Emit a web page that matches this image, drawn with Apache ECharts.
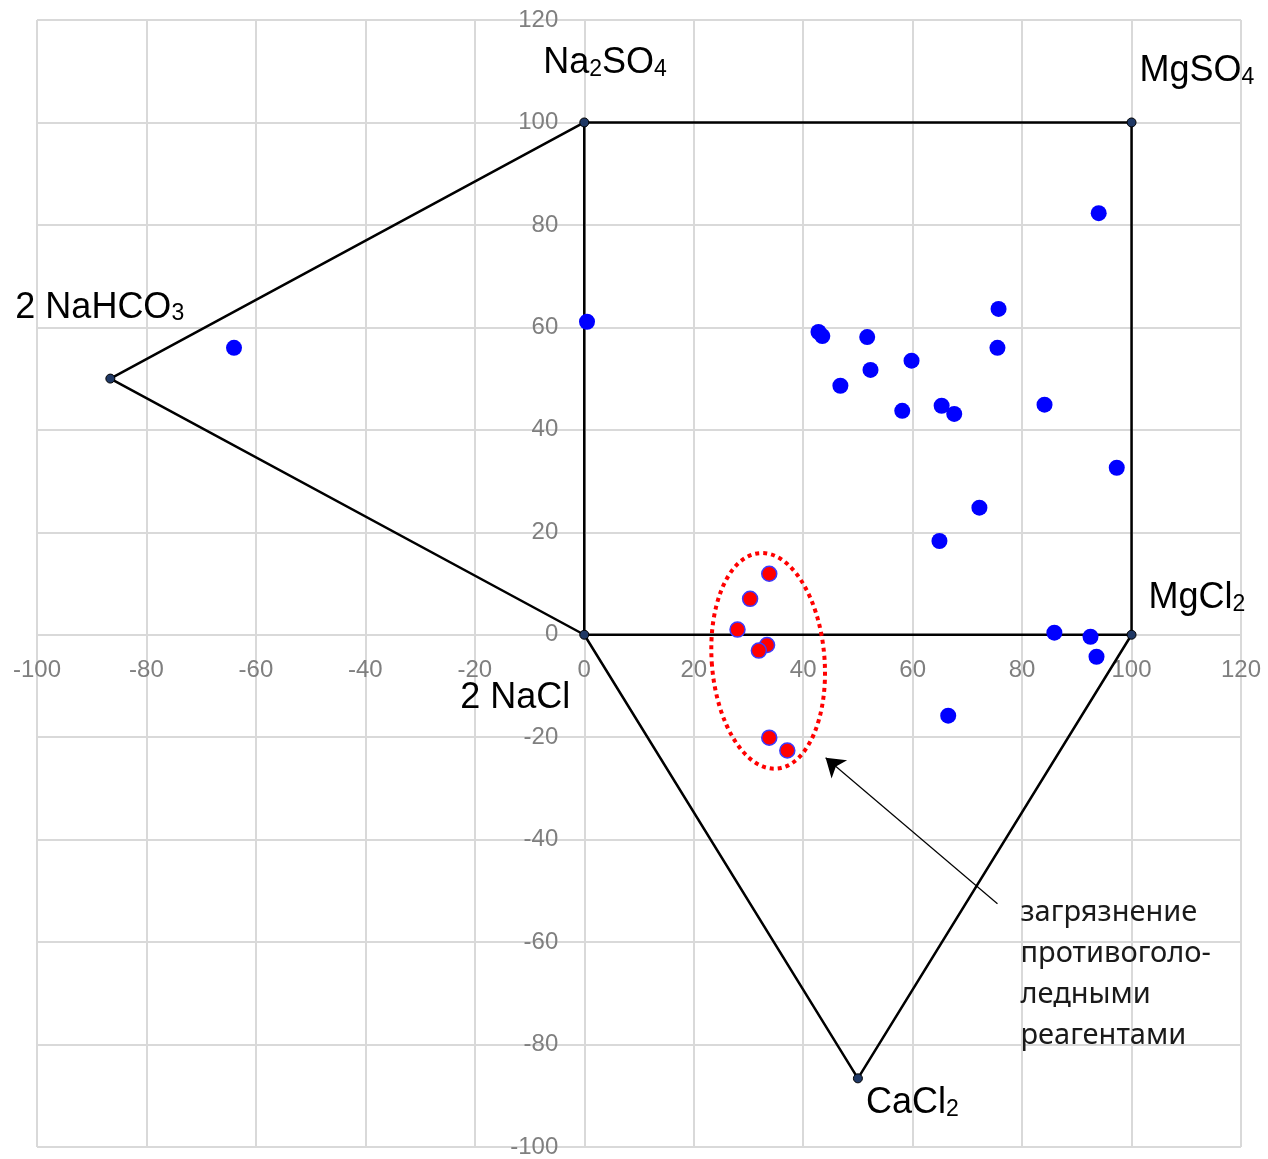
<!DOCTYPE html>
<html>
<head>
<meta charset="utf-8">
<script src="https://cdn.jsdelivr.net/npm/echarts@6/dist/echarts.min.js"></script>
<style>
  html, body { margin: 0; padding: 0; background: #fff; }
  #chart { width: 1268px; height: 1159px; }
</style>
</head>
<body>
<div id="chart"></div>
<script>
// Axis ranges
const xRange = { min: -100, max: 120, interval: 20 };
const yRange = { min: -100, max: 120, interval: 20 };

// Diagram vertices (end-member salts)
const vertexNames = ['2 NaHCO3', 'Na2SO4', 'MgSO4', 'MgCl2', 'CaCl2', '2 NaCl'];
const vertexLabels = [
  '{n|2 NaHCO}{s|3}',
  '{n|Na}{s|2}{n|SO}{s|4}',
  '{n|MgSO}{s|4}',
  '{n|MgCl}{s|2}',
  '{n|CaCl}{s|2}',
  '{n|2 NaCl}'
];
const vertexX = [-86.6, 0, 100, 100, 50, 0];
const vertexY = [50, 100, 100, 0, -86.6, 0];
// outline path and the inner edges (indices into the vertex arrays)
const outlinePath = [0, 1, 2, 3, 4, 5, 0];
const innerPath = [1, 5, 3];

// Water samples
const sampleX = [-64.0, 0.5, 42.8, 43.5, 51.7, 52.3, 46.8, 59.8, 58.1, 65.3, 67.6, 75.7, 75.5, 84.1, 94.0, 97.3, 72.2, 64.9, 85.9, 92.5, 93.6, 66.5];
const sampleY = [56.0, 61.1, 59.1, 58.3, 58.1, 51.7, 48.6, 53.5, 43.7, 44.7, 43.1, 63.6, 56.0, 44.9, 82.3, 32.6, 24.8, 18.3, 0.4, -0.4, -4.3, -15.8];

// Samples affected by de-icing reagents
const reagentX = [33.8, 30.3, 28.0, 33.4, 31.9, 33.8, 37.1];
const reagentY = [11.9, 7.0, 1.0, -2.0, -3.1, -20.1, -22.6];

// Annotation: ellipse around the affected group, arrow and caption
const groupEllipse = { cx: 33.6, cy: -5.1, rx: 10.3, ry: 21.1 };
const arrowFrom = [75.5, -52.5];
const arrowTo = [44.1, -24.0];
const captionAnchor = [79.7, -50.2];
const captionText = 'загрязнение\nпротивоголо-\nледными\nреагентами';

// label offsets (px) for each vertex name: [dx, dy] from the vertex
const labelOffsets = [[-95, -76], [-41, -64], [8, -56], [17, -42], [8, 20], [-124, 58]];

const pathData = idx => idx.map(i => [vertexX[i], vertexY[i]]);

const chart = echarts.init(document.getElementById('chart'), null, { renderer: 'canvas' });

const axisLabelStyle = {
  color: '#7f7f7f',
  fontSize: 24,
  fontFamily: 'Liberation Sans, Arial, sans-serif',
  showMinLabel: true,
  showMaxLabel: true
};
const gridGrey = '#d9d9d9';
const splitLineStyle = { show: true, lineStyle: { color: gridGrey, width: 2 } };
const axisLineStyle = { show: true, onZero: false, lineStyle: { color: gridGrey, width: 2 } };
const nameFont = 'Liberation Sans, Arial, sans-serif';

chart.setOption({
  animation: false,
  backgroundColor: '#fff',
  grid: { left: 37, right: 27, top: 20, bottom: 12, containLabel: false, outerBoundsMode: 'none' },
  xAxis: {
    type: 'value',
    position: 'bottom',
    min: xRange.min, max: xRange.max, interval: xRange.interval,
    axisLine: axisLineStyle,
    axisTick: { show: false },
    axisLabel: Object.assign({ margin: 24 }, axisLabelStyle),
    splitLine: splitLineStyle
  },
  yAxis: {
    type: 'value',
    position: 'left',
    min: yRange.min, max: yRange.max, interval: yRange.interval,
    axisLine: axisLineStyle,
    axisTick: { show: false },
    axisLabel: Object.assign({ margin: 26 }, axisLabelStyle),
    splitLine: splitLineStyle
  },
  series: [
    {
      name: 'outline',
      type: 'line',
      data: pathData(outlinePath),
      symbol: 'none',
      lineStyle: { color: '#000', width: 2.5 },
      z: 3
    },
    {
      name: 'inner',
      type: 'line',
      data: pathData(innerPath),
      symbol: 'none',
      lineStyle: { color: '#000', width: 2.5 },
      z: 3
    },
    {
      name: 'vertices',
      type: 'scatter',
      data: vertexX.map((x, i) => ({
        value: [x, vertexY[i]],
        name: vertexNames[i],
        label: {
          show: true,
          position: 'inside',
          align: 'left',
          verticalAlign: 'middle',
          offset: labelOffsets[i],
          formatter: vertexLabels[i]
        }
      })),
      symbol: 'circle',
      symbolSize: 9,
      itemStyle: { color: '#1f3864', borderColor: '#000', borderWidth: 1, opacity: 1 },
      label: {
        rich: {
          n: { fontSize: 36, lineHeight: 46, color: '#000', fontFamily: nameFont, verticalAlign: 'bottom' },
          s: { fontSize: 23, lineHeight: 13, color: '#000', fontFamily: nameFont, verticalAlign: 'bottom' }
        }
      },
      z: 4
    },
    {
      name: 'samples',
      type: 'scatter',
      data: sampleX.map((x, i) => [x, sampleY[i]]),
      symbol: 'circle',
      symbolSize: 16,
      itemStyle: { color: '#0000ff', opacity: 1 },
      z: 5
    },
    {
      name: 'reagents',
      type: 'scatter',
      data: reagentX.map((x, i) => [x, reagentY[i]]),
      symbol: 'circle',
      symbolSize: 15,
      itemStyle: { color: '#ff0000', borderColor: '#3a3aff', borderWidth: 1.5, opacity: 1 },
      z: 6
    },
    {
      name: 'arrow',
      type: 'lines',
      coordinateSystem: 'cartesian2d',
      data: [{ coords: [arrowFrom, arrowTo] }],
      symbol: ['none', 'arrow'],
      symbolSize: [0, 18],
      lineStyle: { color: '#000', width: 1.2, opacity: 1 },
      z: 6
    }
  ]
});

// Move both axes onto the origin, then add the ellipse and the caption
function placeAxesAndAnnotations() {
  const toPx = p => chart.convertToPixel({ gridIndex: 0 }, p);
  const origin = toPx([0, 0]);
  const bottomLeft = toPx([xRange.min, yRange.min]);
  chart.setOption({
    xAxis: { offset: -(bottomLeft[1] - origin[1]) },
    yAxis: { offset: -(origin[0] - bottomLeft[0]) }
  });

  const c = toPx([groupEllipse.cx, groupEllipse.cy]);
  const ex = toPx([groupEllipse.cx + groupEllipse.rx, groupEllipse.cy]);
  const ey = toPx([groupEllipse.cx, groupEllipse.cy + groupEllipse.ry]);
  const cap = toPx(captionAnchor);
  chart.setOption({
    graphic: [
      {
        type: 'ellipse',
        x: c[0], y: c[1],
        rotation: 0.08,
        shape: { cx: 0, cy: 0, rx: Math.abs(ex[0] - c[0]), ry: Math.abs(ey[1] - c[1]) },
        style: { fill: 'none', stroke: '#ff0000', lineWidth: 4, lineDash: [4, 4] },
        z: 7
      },
      {
        type: 'text',
        x: cap[0], y: cap[1],
        style: {
          text: captionText,
          fontSize: 29,
          fontFamily: 'Noto Sans, Open Sans, sans-serif',
          lineHeight: 41,
          fill: '#1a1a1a',
          verticalAlign: 'top',
          align: 'left'
        },
        z: 7
      }
    ]
  });
}
placeAxesAndAnnotations();
</script>
</body>
</html>
